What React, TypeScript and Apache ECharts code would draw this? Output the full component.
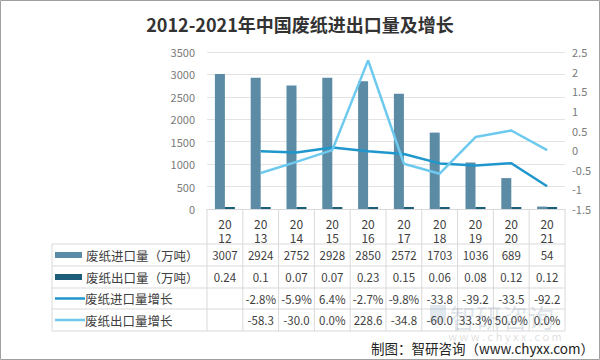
import React, { useEffect, useRef } from "react";
import * as echarts from "echarts";

const years = ["2012", "2013", "2014", "2015", "2016", "2017", "2018", "2019", "2020", "2021"];
const importVol = [3007, 2924, 2752, 2928, 2850, 2572, 1703, 1036, 689, 54];
const exportVol = [0.24, 0.1, 0.07, 0.07, 0.23, 0.15, 0.06, 0.08, 0.12, 0.12];
const importGrowth = [null, -0.028, -0.059, 0.064, -0.027, -0.098, -0.338, -0.392, -0.335, -0.922];
const exportGrowth = [null, -0.583, -0.3, 0.0, 2.286, -0.348, -0.6, 0.333, 0.5, 0.0];
const leftTicks = { min: 0, max: 3500, interval: 500 };
const rightTicks = { min: -1.5, max: 2.5, interval: 0.5 };

const seriesNames = ["废纸进口量（万吨）", "废纸出口量（万吨）", "废纸进口量增长", "废纸出口量增长"];
const colors = ["#5b8ba5", "#1c5d79", "#1f97cc", "#6dcaee"];

const FONT = "'Noto Sans CJK SC', 'Noto Sans', sans-serif";

function fmtPct(v: number | null) {
  if (v === null || v === undefined) return "";
  const s = (v * 100).toFixed(1) + "%";
  return s.length > 5 ? s.slice(0, -1) : s;
}

export default function App() {
  const ref = useRef<HTMLDivElement>(null);
  useEffect(() => {
    if (!ref.current) return;
    const chart = echarts.init(ref.current, undefined, { renderer: "svg" });
    const gridLeft = 207;
    const gridRight = 35;
    const gridTop = 52;
    const gridBottom = 151;
    chart.setOption({
      animation: false,
      backgroundColor: "#fff",
      title: {
        text: "2012-2021年中国废纸进出口量及增长",
        left: "center",
        top: 10,
        textStyle: { fontSize: 18, fontWeight: "bold", color: "#333", fontFamily: FONT },
      },
      grid: { left: gridLeft, right: gridRight, top: gridTop, bottom: gridBottom },
      xAxis: {
        type: "category",
        data: years,
        axisLine: { lineStyle: { color: "#d9d9d9" } },
        axisTick: { show: false },
        axisLabel: {
          formatter: (v: string) => v.slice(0, 2) + "\n" + v.slice(2),
          color: "#404040",
          fontSize: 12,
          lineHeight: 14,
          margin: 7,
          fontFamily: FONT,
        },
      },
      yAxis: [
        {
          type: "value",
          ...leftTicks,
          axisLine: { show: false },
          axisTick: { show: false },
          axisLabel: { color: "#7a7a7a", fontSize: 11, margin: 12, fontFamily: FONT, formatter: (v: number) => String(v) },
          splitLine: { lineStyle: { color: "#e3e3e3" } },
        },
        {
          type: "value",
          ...rightTicks,
          axisLine: { show: false },
          axisTick: { show: false },
          axisLabel: { color: "#7a7a7a", fontSize: 11, margin: 7, fontFamily: FONT, formatter: (v: number) => String(v) },
          splitLine: { show: false },
        },
      ],
      series: [
        {
          name: seriesNames[0],
          type: "bar",
          data: importVol,
          barWidth: 10,
          barGap: "0%",
          itemStyle: { color: colors[0] },
        },
        {
          name: seriesNames[1],
          type: "bar",
          data: exportVol,
          barWidth: 10,
          barGap: "0%",
          barMinHeight: 2,
          itemStyle: { color: colors[1] },
        },
        {
          name: seriesNames[2],
          type: "line",
          yAxisIndex: 1,
          data: importGrowth,
          symbol: "none",
          lineStyle: { color: colors[2], width: 2.5 },
        },
        {
          name: seriesNames[3],
          type: "line",
          yAxisIndex: 1,
          data: exportGrowth,
          symbol: "none",
          lineStyle: { color: colors[3], width: 2.5 },
        },
      ],
    });

    // Build data table under the axis
    const xs = years.map((_, i) => chart.convertToPixel({ xAxisIndex: 0 }, i) as number);
    const colW = xs.length > 1 ? xs[1] - xs[0] : 36;
    const axisY = 360 - gridBottom;
    const tableLeft = 52;
    const tableRight = xs[xs.length - 1] + colW / 2;
    const rowYs = [244, 266, 288, 309, 331];
    const lineColor = "#d9d9d9";
    const els: any[] = [];
    rowYs.forEach((y) => {
      els.push({ type: "line", shape: { x1: tableLeft, y1: y, x2: tableRight, y2: y }, style: { stroke: lineColor, lineWidth: 1 } });
    });
    els.push({ type: "line", shape: { x1: tableLeft, y1: rowYs[0], x2: tableLeft, y2: rowYs[4] }, style: { stroke: lineColor, lineWidth: 1 } });
    for (let i = 0; i <= xs.length; i++) {
      const x = xs[0] - colW / 2 + i * colW;
      els.push({ type: "line", shape: { x1: x, y1: axisY, x2: x, y2: rowYs[4] }, style: { stroke: lineColor, lineWidth: 1 } });
    }
    // watermark (drawn beneath table text)
    els.push({ type: "rect", shape: { x: 430, y: 305, width: 16, height: 18 }, style: { fill: "rgba(120,150,180,0.22)" } });
    els.push({
      type: "text",
      x: 450,
      y: 316,
      style: { text: "智研咨询", fill: "rgba(140,160,180,0.28)", font: `26px ${FONT}`, align: "left", verticalAlign: "middle" },
    });
    els.push({
      type: "text",
      x: 505,
      y: 336,
      style: { text: "w w w . c h y x x . c o m", fill: "rgba(160,160,160,0.35)", font: `11px ${FONT}`, align: "center", verticalAlign: "middle" },
    });
    const rowsText = [
      importVol.map((v) => String(v)),
      exportVol.map((v) => String(v)),
      importGrowth.map(fmtPct),
      exportGrowth.map(fmtPct),
    ];
    rowsText.forEach((row, r) => {
      const cy = (rowYs[r] + rowYs[r + 1]) / 2;
      row.forEach((t, i) => {
        if (!t) return;
        els.push({
          type: "text",
          x: xs[i],
          y: cy,
          style: { text: t, fill: "#404040", font: `11.5px ${FONT}`, align: "center", verticalAlign: "middle" },
        });
      });
      if (r < 2) {
        els.push({ type: "rect", shape: { x: 55, y: cy - 3, width: 27, height: 6 }, style: { fill: colors[r] } });
        els.push({
          type: "text",
          x: 86,
          y: cy,
          style: { text: seriesNames[r], fill: "#404040", font: `12.5px ${FONT}`, align: "left", verticalAlign: "middle" },
        });
      } else {
        els.push({ type: "line", shape: { x1: 55, y1: cy, x2: 85, y2: cy }, style: { stroke: colors[r], lineWidth: 2.5 } });
        els.push({
          type: "text",
          x: 85,
          y: cy,
          style: { text: seriesNames[r], fill: "#404040", font: `12.5px ${FONT}`, align: "left", verticalAlign: "middle" },
        });
      }
    });
    els.push({
      type: "text",
      x: 594,
      y: 348,
      style: { text: "制图：智研咨询（www.chyxx.com）", fill: "#222", font: `13.5px ${FONT}`, align: "right", verticalAlign: "middle" },
    });
    els.push({ type: "rect", shape: { x: 0.5, y: 0.5, width: 599, height: 359 }, style: { fill: "none", stroke: "#a0a0a0", lineWidth: 1 } });

    chart.setOption({ graphic: { elements: els } });

    return () => chart.dispose();
  }, []);
  return <div ref={ref} style={{ position: "fixed", left: 0, top: 0, width: 600, height: 360 }} />;
}
